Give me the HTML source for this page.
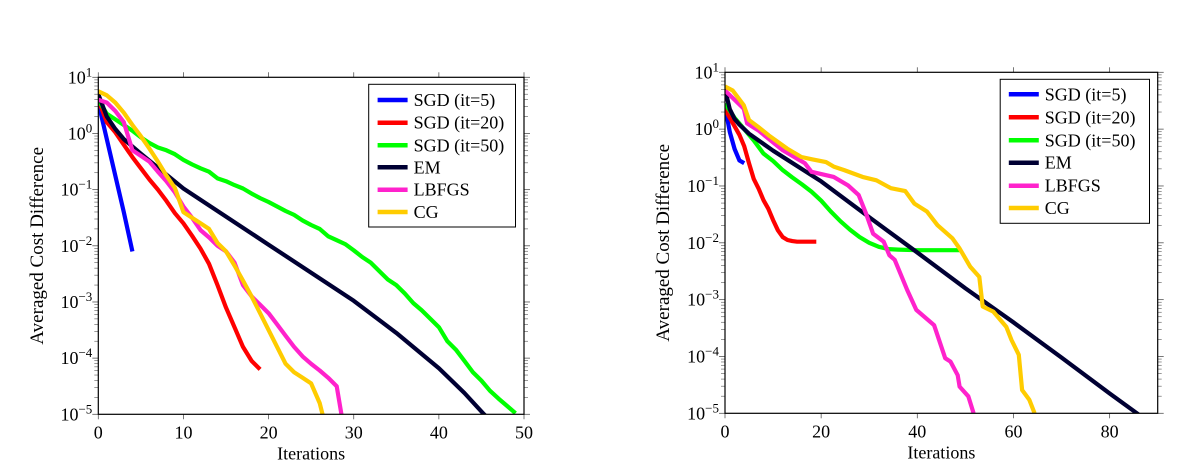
<!DOCTYPE html>
<html><head><meta charset="utf-8"><style>
html,body{margin:0;padding:0;background:#fff}
svg{display:block}
svg text{font-family:"Liberation Serif",serif}
</style></head><body>
<svg id="fig" width="1202" height="465" viewBox="0 0 1202 465"></svg>
<script>
// ---------- data: left chart ----------
const L_sgd5_x=[0,1,2,3,4];
const L_sgd5_y=[0.55,-0.1,-0.75,-1.4,-2.1];
const L_sgd20_x=[0,1,2,3,4,5,6,7,8,9,10,11,12,13,14,15,16,17,18,19];
const L_sgd20_y=[0.6,0.2,0.02,-0.2,-0.42,-0.62,-0.82,-1.0,-1.2,-1.42,-1.6,-1.82,-2.05,-2.32,-2.7,-3.1,-3.45,-3.8,-4.05,-4.2];
const L_sgd50_x=[0,1,2,3,4,5,6,7,8,9,10,11,12,13,14,15,16,17,18,19,20,21,22,23,24,25,26,27,28,29,30,31,32,33,34,35,36,37,38,39,40,41,42,43,44,45,46,47,48,49];
const L_sgd50_y=[0.6,0.35,0.25,0.15,0.05,-0.07,-0.17,-0.25,-0.3,-0.37,-0.47,-0.55,-0.62,-0.68,-0.8,-0.85,-0.92,-0.98,-1.07,-1.15,-1.22,-1.3,-1.38,-1.45,-1.55,-1.63,-1.7,-1.83,-1.9,-1.97,-2.08,-2.2,-2.3,-2.45,-2.6,-2.7,-2.85,-3.02,-3.15,-3.3,-3.45,-3.7,-3.85,-4.05,-4.25,-4.4,-4.58,-4.72,-4.85,-4.98];
const L_em_x=[0,1,2,3,5,10,20,30,35,40,43,45.3,46];
const L_em_y=[0.7,0.3,0.08,-0.1,-0.36,-0.98,-1.98,-2.98,-3.55,-4.18,-4.62,-5.0,-5.1];
const L_lbfgs_x=[0,1,2,3,4,5,6,7,8,9,10,11,12,13,14,15,16,17,18,19,20,21,22,23,24,25,26,27,28,29];
const L_lbfgs_y=[0.6,0.55,0.4,0.2,-0.3,-0.4,-0.5,-0.68,-0.85,-1.05,-1.3,-1.5,-1.72,-1.85,-2.0,-2.1,-2.3,-2.7,-2.9,-3.05,-3.2,-3.4,-3.6,-3.8,-3.97,-4.1,-4.22,-4.35,-4.5,-5.4];
const L_cg_x=[0,1,2,3,4,5,6,7,8,9,10,11,12,13,14,15,16,17,18,19,20,21,22,23,24,25,26,27];
const L_cg_y=[0.75,0.68,0.55,0.37,0.15,-0.05,-0.27,-0.5,-0.75,-0.97,-1.4,-1.5,-1.6,-1.7,-1.95,-2.1,-2.35,-2.62,-2.9,-3.2,-3.5,-3.8,-4.1,-4.25,-4.35,-4.45,-4.8,-5.4];
// ---------- data: right chart ----------
const R_sgd5_x=[0,1,2,3,4];
const R_sgd5_y=[0.4,-0.05,-0.35,-0.55,-0.6];
const R_sgd20_x=[0,1,2,3,4,5,6,7,8,9,10,11,12,13,14,15,16,17,18,19];
const R_sgd20_y=[0.35,0.2,0.05,-0.1,-0.3,-0.6,-0.88,-1.05,-1.25,-1.4,-1.6,-1.78,-1.9,-1.95,-1.97,-1.98,-1.98,-1.98,-1.98,-1.98];
const R_sgd50_x=[0,2,4,6,8,10,12,14,16,18,20,22,24,26,28,30,32,34,36,40,45,49];
const R_sgd50_y=[0.45,0.2,0,-0.2,-0.43,-0.56,-0.72,-0.85,-0.97,-1.1,-1.26,-1.45,-1.62,-1.77,-1.9,-2.0,-2.07,-2.11,-2.12,-2.13,-2.13,-2.13];
const R_em_x=[0,1,2,3,5,10,20,30,40,50,60,70,80,86];
const R_em_y=[0.7,0.35,0.18,0.08,-0.08,-0.38,-0.92,-1.55,-2.17,-2.8,-3.4,-4.02,-4.65,-5.02];
const R_lbfgs_x=[0,3.9,4.6,6.9,12,16.6,18,22.6,25.6,27.8,29.3,30.8,33,34.2,35.3,37.9,39.8,43.5,45.8,46.9,48.4,48.8,50.6,51.7];
const R_lbfgs_y=[0.68,0.36,0.1,-0.02,-0.37,-0.6,-0.75,-0.84,-0.99,-1.16,-1.48,-1.84,-1.98,-2.22,-2.3,-2.83,-3.18,-3.45,-4.03,-4.09,-4.33,-4.53,-4.7,-5.0];
const R_cg_x=[0,1.6,3.9,5,6.9,9.1,12.9,15.9,18.1,21,22.6,24.8,28.6,31.5,34.5,37.5,39.4,42,44.2,47.3,48.8,51,52.9,53.6,55.8,58.5,59.6,61.1,61.8,63.3,64.4];
const R_cg_y=[0.75,0.68,0.42,0.16,0.04,-0.11,-0.34,-0.49,-0.53,-0.58,-0.66,-0.72,-0.84,-0.9,-1.04,-1.09,-1.31,-1.45,-1.69,-1.92,-2.1,-2.42,-2.6,-3.12,-3.21,-3.48,-3.71,-3.97,-4.59,-4.76,-5.0];
const L_xticks=[0,10,20,30,40,50];
const R_xticks=[0,20,40,60,80];
const yticks=[1,0,-1,-2,-3,-4,-5];
const legendLabels=["SGD (it=5)","SGD (it=20)","SGD (it=50)","EM","LBFGS","CG"];
const colors=["#0000ff","#ff0000","#00ff00","#000033","#ff22cc","#ffcc00"];

const NS="http://www.w3.org/2000/svg";
const FF='"Liberation Serif", serif';
const svg=document.getElementById('fig');
function mk(tag,attrs,parent){const e=document.createElementNS(NS,tag);for(const k in attrs)e.setAttribute(k,attrs[k]);if(tag==='text'){e.setAttribute('font-family',FF);e.style.fontFamily=FF;}(parent||svg).appendChild(e);return e;}

function drawPlot(id,box,xmax,xticks,series,leg){
  const g=mk('g',{});
  
  
  const sx=v=>box.x0+(v/xmax)*(box.x1-box.x0);
  const sy=v=>box.y0+((1-v)/6)*(box.y1-box.y0);
  const cp=mk('clipPath',{id:id+'clip'},g);
  mk('rect',{x:box.x0,y:box.y0,width:box.x1-box.x0,height:box.y1-box.y0},cp);
  for(let d=-5;d<1;d++){for(let m=2;m<10;m++){const y=sy(d+Math.log10(m));
    mk('line',{x1:box.x0-4,x2:box.x0,y1:y,y2:y,stroke:'#555','stroke-width':0.6},g);
    mk('line',{x1:box.x1,x2:box.x1+4,y1:y,y2:y,stroke:'#555','stroke-width':0.6},g);}}
  yticks.forEach(t=>{const y=sy(t);
    mk('line',{x1:box.x0-6,x2:box.x0,y1:y,y2:y,stroke:'#555','stroke-width':0.8},g);
    mk('line',{x1:box.x1,x2:box.x1+6,y1:y,y2:y,stroke:'#555','stroke-width':0.8},g);
    const tx=mk('text',{x:box.x0-6,y:y+6,'text-anchor':'end','font-size':18},g);
    
    
    tx.appendChild(document.createTextNode('10'));
    const s=mk('tspan',{dy:-7,'font-size':13},tx);s.textContent=(t<0?'\u2212'+(-t):String(t));
  });
  xticks.forEach(t=>{const x=sx(t);
    mk('line',{x1:x,x2:x,y1:box.y1,y2:box.y1+5,stroke:'#555','stroke-width':0.8},g);
    mk('line',{x1:x,x2:x,y1:box.y0-5,y2:box.y0,stroke:'#555','stroke-width':0.8},g);
    const tx=mk('text',{x:x,y:box.y1+24,'text-anchor':'middle','font-size':18},g);
    
    
    tx.textContent=t;
  });
  const lg=mk('g',{'clip-path':'url(#'+id+'clip)'},g);
  series.forEach((s,i)=>{
    const d=s[0].map((xv,j)=>(j?'L':'M')+sx(xv).toFixed(1)+' '+sy(s[1][j]).toFixed(1)).join(' ');
    const p=mk('path',{d:d,fill:'none',stroke:colors[i],'stroke-width':4.2,'stroke-linejoin':'round'},lg);
    
    
  });
  mk('rect',{x:box.x0,y:box.y0,width:box.x1-box.x0,height:box.y1-box.y0,fill:'none',stroke:'#000','stroke-width':1.2},g);
  const yl=mk('text',{x:0,y:0,transform:'translate('+box.ylx+','+((box.y0+box.y1)/2)+') rotate(-90)','text-anchor':'middle','font-size':19},g);
  
  
  yl.textContent='Averaged Cost Difference';
  const xl=mk('text',{x:(box.x0+box.x1)/2,y:box.y1+45,'text-anchor':'middle','font-size':18},g);
  
  
  xl.textContent='Iterations';
  const lb=mk('g',{},g);
  
  
  mk('rect',{x:leg.x0,y:leg.y0,width:leg.x1-leg.x0,height:leg.y1-leg.y0,fill:'#fff',stroke:'#000','stroke-width':1},lb);
  legendLabels.forEach((lab,i)=>{const y=leg.ys[i];
    const e=mk('g',{},lb);
    
    
    mk('line',{x1:leg.lx0,x2:leg.lx0+30,y1:y,y2:y,stroke:colors[i],'stroke-width':4.5},e);
    const t=mk('text',{x:leg.lx0+36,y:y+6,'font-size':18},e);t.textContent=lab;});
}
drawPlot('left',{x0:98.3,x1:524,y0:77.3,y1:414.3,ylx:43},50,L_xticks,
  [[L_sgd5_x,L_sgd5_y],[L_sgd20_x,L_sgd20_y],[L_sgd50_x,L_sgd50_y],[L_em_x,L_em_y],[L_lbfgs_x,L_lbfgs_y],[L_cg_x,L_cg_y]],
  {x0:368.7,x1:515.5,y0:84.3,y1:227,lx0:377.6,ys:[100,122.7,145.3,167.3,189.7,212]});
drawPlot('right',{x0:725,x1:1157.7,y0:72.3,y1:413.3,ylx:669},90,R_xticks,
  [[R_sgd5_x,R_sgd5_y],[R_sgd20_x,R_sgd20_y],[R_sgd50_x,R_sgd50_y],[R_em_x,R_em_y],[R_lbfgs_x,R_lbfgs_y],[R_cg_x,R_cg_y]],
  {x0:1000.2,x1:1149.5,y0:79.3,y1:223.3,lx0:1008.8,ys:[94.3,117.3,140.3,162.7,185.7,208]});
</script>
</body></html>
